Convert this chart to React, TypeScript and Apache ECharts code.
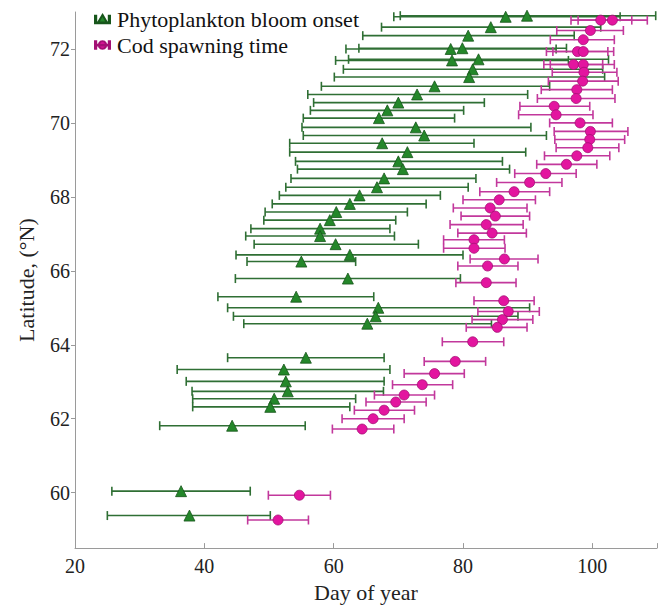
import React, { useEffect, useRef } from "react";
import * as echarts from "echarts";

// Phytoplankton bloom onset: latitude, day, lower and upper bounds
const bloomLat = [72.87, 72.9, 72.59, 72.36, 72.0, 72.02, 71.69, 71.72, 71.45, 71.24, 70.99, 70.77, 70.55, 70.34, 70.13, 69.88, 69.66, 69.45, 69.21, 68.96, 68.75, 68.5, 68.26, 68.04, 67.81, 67.59, 67.37, 67.14, 66.94, 66.72, 66.43, 66.25, 65.79, 65.3, 65.0, 64.77, 64.57, 63.65, 63.33, 63.01, 62.74, 62.54, 62.32, 61.81, 60.04, 59.38];
const bloomDay = [86.6, 89.9, 84.3, 80.8, 78.1, 79.9, 78.3, 82.4, 81.5, 80.95, 75.6, 72.9, 70.0, 68.3, 67.0, 72.7, 74.0, 67.5, 71.4, 70.0, 70.7, 67.8, 66.7, 64.0, 62.5, 60.4, 59.4, 57.9, 57.9, 60.3, 62.5, 55.0, 62.2, 54.2, 66.9, 66.5, 65.2, 55.7, 52.3, 52.6, 52.9, 50.8, 50.2, 44.3, 36.4, 37.7];
const bloomLo = [69.3, 70.3, 67.4, 64.5, 61.9, 63.9, 60.3, 62.3, 61.5, 60.1, 58.1, 56.0, 56.9, 56.4, 55.3, 55.1, 55.3, 53.2, 53.2, 54.1, 54.4, 53.4, 52.6, 51.6, 50.5, 49.4, 49.2, 47.2, 46.4, 47.7, 44.9, 46.6, 44.8, 42.1, 43.6, 44.5, 46.1, 43.6, 35.8, 37.2, 38.1, 38.2, 38.2, 33.1, 25.7, 25.0];
const bloomHi = [104.3, 109.8, 101.3, 97.2, 94.4, 96.0, 96.3, 102.5, 101.6, 101.9, 93.4, 90.0, 83.3, 80.1, 78.7, 90.5, 92.9, 81.7, 89.7, 86.1, 87.2, 82.0, 80.8, 76.5, 74.3, 71.4, 69.6, 68.7, 69.4, 73.1, 80.0, 63.4, 79.6, 66.2, 90.3, 88.5, 84.4, 67.8, 68.7, 67.8, 67.7, 63.4, 62.5, 55.6, 47.1, 50.2];

// Cod spawning time: latitude, day, lower and upper bounds
const codLat = [72.78, 72.78, 72.5, 72.25, 71.93, 71.93, 71.58, 71.58, 71.37, 71.13, 70.9, 70.66, 70.45, 70.22, 70.0, 69.77, 69.55, 69.33, 69.11, 68.88, 68.63, 68.39, 68.14, 67.92, 67.7, 67.48, 67.25, 67.02, 66.84, 66.61, 66.32, 66.13, 65.68, 65.19, 64.9, 64.68, 64.47, 64.08, 63.55, 63.22, 62.92, 62.64, 62.45, 62.23, 62.0, 61.72, 59.93, 59.26];
const codDay = [101.3, 103.1, 99.7, 98.6, 97.7, 98.6, 97.1, 98.6, 98.7, 98.5, 97.6, 97.5, 94.1, 94.4, 98.1, 99.7, 99.6, 99.3, 97.6, 96.0, 92.8, 90.3, 87.9, 85.6, 84.2, 85.0, 83.6, 84.5, 81.7, 81.7, 86.4, 83.8, 83.6, 86.3, 87.0, 86.1, 85.3, 81.5, 78.8, 75.6, 73.7, 70.9, 69.6, 67.8, 66.1, 64.4, 54.7, 51.4];
const codLo = [96.7, 97.8, 94.5, 93.5, 92.9, 93.9, 92.5, 93.5, 93.8, 93.2, 92.1, 91.5, 88.8, 88.6, 93.4, 94.1, 94.2, 94.4, 92.6, 91.4, 88.0, 85.2, 82.6, 80.0, 78.5, 79.7, 78.0, 79.2, 77.0, 77.0, 81.1, 79.2, 78.9, 81.7, 82.3, 81.4, 80.5, 76.8, 74.0, 70.9, 69.1, 66.3, 65.0, 63.2, 61.3, 59.8, 49.9, 46.7];
const codHi = [106.1, 108.5, 104.8, 103.4, 102.4, 103.3, 101.6, 103.4, 103.8, 104.0, 103.1, 103.5, 99.6, 100.1, 103.1, 105.5, 105.0, 104.1, 102.7, 100.7, 97.5, 95.3, 93.4, 91.2, 89.9, 90.3, 89.3, 89.8, 86.4, 86.5, 91.6, 88.5, 88.2, 91.0, 91.8, 90.8, 89.9, 86.3, 83.5, 80.2, 78.4, 75.6, 74.3, 72.5, 70.9, 69.3, 59.5, 56.1];

const xTicks = [20, 40, 60, 80, 100];
const yTicks = [60, 62, 64, 66, 68, 70, 72];

const FONT = "'Liberation Serif', serif";
const GREEN_BAR = "#2f6f34";
const GREEN_FILL = "#24872a";
const GREEN_EDGE = "#17561b";
const PINK_BAR = "#c2389c";
const PINK_FILL = "#e3159f";
const PINK_EDGE = "#a30f74";

function errorBarRender(color: string) {
  return (params: any, api: any) => {
    const lo = api.coord([api.value(0), api.value(2)]);
    const hi = api.coord([api.value(1), api.value(2)]);
    const cap = 4.5;
    const style = { stroke: color, lineWidth: 1.6 };
    return {
      type: "group",
      children: [
        { type: "line", shape: { x1: lo[0], y1: lo[1], x2: hi[0], y2: hi[1] }, style },
        { type: "line", shape: { x1: lo[0], y1: lo[1] - cap, x2: lo[0], y2: lo[1] + cap }, style },
        { type: "line", shape: { x1: hi[0], y1: hi[1] - cap, x2: hi[0], y2: hi[1] + cap }, style },
      ],
    };
  };
}

const bloomIcon =
  "path://M0,2h1.6v10h-1.6z M0,11h20v1h-20z M18.4,2h1.6v10h-1.6z M10,1L16.5,12L3.5,12z";
const codIcon =
  "path://M0,2h1.6v10h-1.6z M0,6.5h20v1h-20z M18.4,2h1.6v10h-1.6z M10,2A5,5 0 1,0 10.01,2z";

export default function App() {
  const ref = useRef<HTMLDivElement>(null);
  useEffect(() => {
    if (!ref.current) return;
    const chart = echarts.init(ref.current, undefined, { renderer: "svg" });
    const bloomBars = bloomLat.map((lat, i) => [bloomLo[i], bloomHi[i], lat]);
    const codBars = codLat.map((lat, i) => [codLo[i], codHi[i], lat]);
    const bloomPts = bloomLat.map((lat, i) => [bloomDay[i], lat]);
    const codPts = codLat.map((lat, i) => [codDay[i], lat]);
    chart.setOption({
      animation: false,
      backgroundColor: "#ffffff",
      textStyle: { fontFamily: FONT },
      grid: { left: 75, right: 5, top: 12, bottom: 54, containLabel: false },
      legend: {
        left: 89,
        top: 3,
        orient: "vertical",
        itemGap: 4,
        itemWidth: 15,
        itemHeight: 11,
        textStyle: { fontFamily: FONT, fontSize: 22, color: "#111", padding: [0, 0, 0, 2] },
        data: [
          { name: "Phytoplankton bloom onset", icon: bloomIcon },
          { name: "Cod spawning time", icon: codIcon },
        ],
      },
      xAxis: {
        type: "value",
        min: 20,
        max: 110,
        interval: 20,
        name: "Day of year",
        nameLocation: "middle",
        nameGap: 32,
        nameTextStyle: { fontFamily: FONT, fontSize: 22, color: "#222" },
        axisLine: { show: true, lineStyle: { color: "#9a9a9a", width: 1 } },
        axisTick: { show: true, inside: true, length: 5, lineStyle: { color: "#9a9a9a" } },
        axisLabel: {
          fontFamily: FONT,
          fontSize: 20,
          color: "#222",
          margin: 8,
          formatter: (v: number) => (xTicks.includes(v) ? String(v) : ""),
        },
        splitLine: { show: false },
      },
      yAxis: {
        type: "value",
        min: 58.5,
        max: 73,
        name: "Latitude, (°N)",
        nameLocation: "middle",
        nameGap: 38,
        nameTextStyle: { fontFamily: FONT, fontSize: 22, color: "#222" },
        axisLine: { show: true, lineStyle: { color: "#9a9a9a", width: 1 } },
        axisTick: { show: true, inside: false, length: 4, lineStyle: { color: "#9a9a9a" }, customValues: yTicks },
        axisLabel: {
          fontFamily: FONT,
          fontSize: 20,
          color: "#222",
          margin: 5,
          customValues: yTicks,
        },
        splitLine: { show: false },
      },
      series: [
        {
          name: "bloomBars",
          type: "custom",
          renderItem: errorBarRender(GREEN_BAR),
          encode: { x: [0, 1], y: 2 },
          data: bloomBars,
          z: 2,
        },
        {
          name: "Phytoplankton bloom onset",
          type: "scatter",
          symbol: "triangle",
          symbolSize: 11,
          itemStyle: { color: GREEN_FILL, borderColor: GREEN_EDGE, borderWidth: 0.8, opacity: 1 },
          data: bloomPts,
          z: 3,
        },
        {
          name: "codBars",
          type: "custom",
          renderItem: errorBarRender(PINK_BAR),
          encode: { x: [0, 1], y: 2 },
          data: codBars,
          z: 4,
        },
        {
          name: "Cod spawning time",
          type: "scatter",
          symbol: "circle",
          symbolSize: 10,
          itemStyle: { color: PINK_FILL, borderColor: PINK_EDGE, borderWidth: 0.8, opacity: 1 },
          data: codPts,
          z: 5,
        },
      ],
    });
    return () => chart.dispose();
  }, []);
  return (
    <div
      ref={ref}
      style={{ position: "fixed", left: 0, top: 0, width: 662, height: 608 }}
    />
  );
}
